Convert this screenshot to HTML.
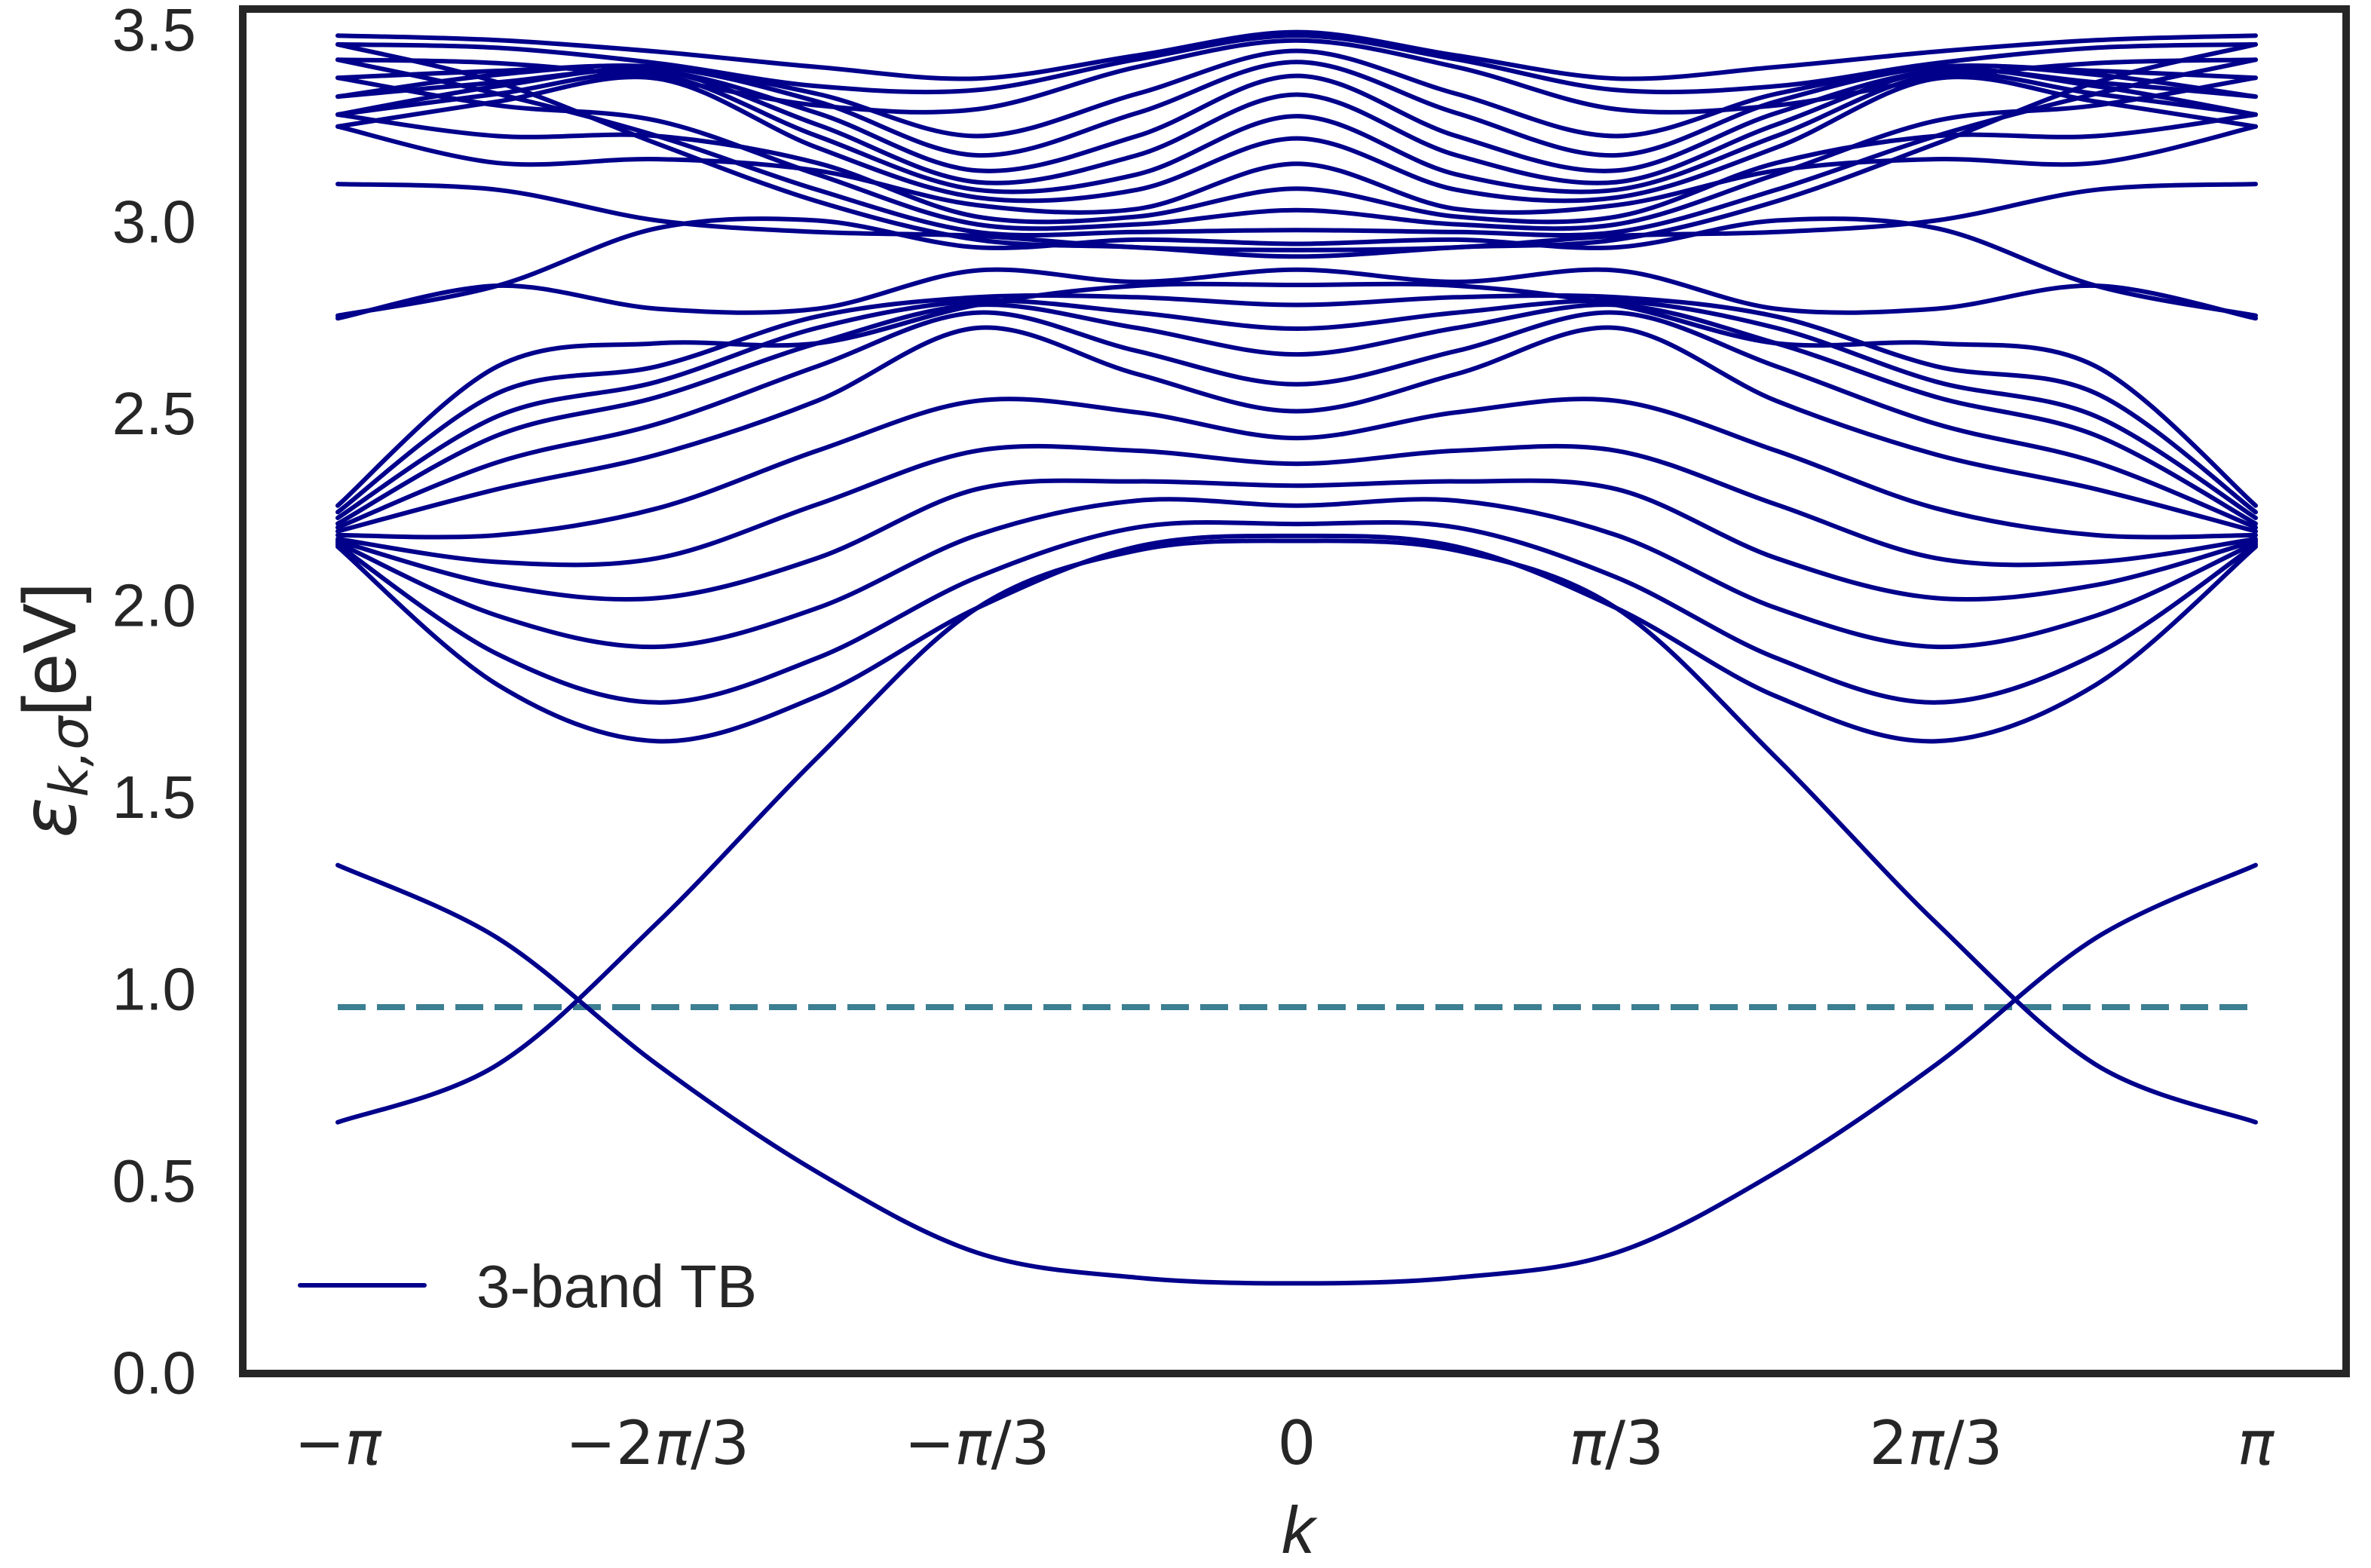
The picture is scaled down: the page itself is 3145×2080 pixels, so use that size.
<!DOCTYPE html>
<html><head><meta charset="utf-8"><style>
html,body{margin:0;padding:0;background:#fff;}
svg{display:block;}
text{font-family:"Liberation Sans","DejaVu Sans",sans-serif;fill:#262626;}
</style></head><body>
<svg id="chart" width="3145" height="2080" viewBox="0 0 3145 2080" xmlns="http://www.w3.org/2000/svg">
<rect width="3145" height="2080" fill="#fff"/>
<g id="bands"></g>
<g id="ticks"></g>
<rect x="322" y="12" width="2790" height="1810" fill="none" stroke="#262626" stroke-width="10"/>
<g>
<line x1="398" y1="1705" x2="563" y2="1705" stroke="#00008b" stroke-width="6" stroke-linecap="round"/>
<text x="632" y="1734" font-size="80">3-band TB</text>
</g>
<text x="1722" y="2060" font-size="88" font-style="italic" text-anchor="middle" font-family="DejaVu Sans">k</text>
<text transform="translate(100,942) rotate(-90)" font-size="100" text-anchor="middle"><tspan font-family="DejaVu Sans" font-style="italic">ε</tspan><tspan font-family="DejaVu Sans" font-style="italic" font-size="70" dy="16">k,σ</tspan><tspan dy="-16">[eV]</tspan></text>
</svg>
<script>
var kTicks=[-Math.PI,-2*Math.PI/3,-Math.PI/3,0,Math.PI/3,2*Math.PI/3,Math.PI];
var kTickLabels=[["−","π"],["−2","π","/3"],["−","π","/3"],["0"],["","π","/3"],["2","π","/3"],["","π"]];
var yTicks=[0,0.5,1.0,1.5,2.0,2.5,3.0,3.5];
var fermiLevel=0.95;
// band energies sampled at k = -π, -5π/6, -2π/3, -π/2, -π/3, -π/6, 0 (mirrored for k>0)
var bandA=[1.32,1.13,0.80,0.52,0.31,0.245,0.23];
var bandB=[0.65,0.80,1.17,1.60,1.99,2.14,2.165];
var bandD1=[2.150,1.79,1.643,1.76,1.99,2.15,2.178];
var bandD2=[2.155,1.87,1.744,1.86,2.07,2.20,2.209];
var bandD3=[2.160,1.97,1.889,1.99,2.18,2.27,2.257];
var bandD4=[2.165,2.05,2.016,2.12,2.30,2.32,2.309];
var bandD5=[2.17,2.11,2.12,2.26,2.40,2.40,2.366];
var bandD6=[2.18,2.18,2.25,2.40,2.53,2.50,2.433];
var bandP1=[2.19,2.30,2.39,2.53,2.72,2.60,2.503];
var bandP2=[2.20,2.37,2.47,2.62,2.76,2.66,2.573];
var bandP3=[2.21,2.44,2.54,2.68,2.78,2.72,2.651];
var bandP4=[2.225,2.49,2.58,2.72,2.79,2.76,2.718];
var bandP5=[2.24,2.55,2.62,2.75,2.80,2.80,2.78];
var bandP6=[2.257,2.62,2.68,2.68,2.78,2.83,2.832];
var bandQ1=[2.745,2.83,2.77,2.77,2.87,2.84,2.872];
var bandQ2=[2.752,2.83,2.98,3.00,2.93,2.95,2.939];
var bandC10=[3.095,3.08,3.0,2.97,2.96,2.93,2.923];
var bandU1=[3.482,3.47,3.44,3.40,3.37,3.43,3.491];
var bandU2=[3.459,3.45,3.41,3.35,3.34,3.42,3.482];
var bandU3=[3.419,3.41,3.37,3.30,3.29,3.40,3.469];
var bandU4=[3.372,3.39,3.40,3.33,3.22,3.33,3.442];
var bandU5=[3.323,3.38,3.40,3.31,3.17,3.28,3.413];
var bandU6=[3.323,3.36,3.39,3.28,3.13,3.22,3.377];
var bandU7=[3.276,3.35,3.39,3.25,3.10,3.17,3.328];
var bandU8=[3.276,3.33,3.38,3.22,3.08,3.12,3.272];
var bandU9=[3.245,3.31,3.37,3.19,3.06,3.08,3.214];
var bandU10=[3.245,3.15,3.16,3.13,3.04,3.03,3.148];
var bandU11=[3.276,3.22,3.22,3.15,3.01,3.01,3.083];
var bandU12=[3.372,3.30,3.26,3.12,2.99,2.99,3.027];
var bandU13=[3.419,3.33,3.22,3.08,2.97,2.97,2.975];
var bandU14=[3.459,3.36,3.20,3.05,2.95,2.93,2.906];
var bands=[bandA,bandB,bandD1,bandD2,bandD3,bandD4,bandD5,bandD6,bandP1,bandP2,bandP3,bandP4,bandP5,bandP6,bandQ1,bandQ2,bandC10,bandU1,bandU2,bandU3,bandU4,bandU5,bandU6,bandU7,bandU8,bandU9,bandU10,bandU11,bandU12,bandU13,bandU14];

var NS="http://www.w3.org/2000/svg";
function xScale(k){return 1720+(k/Math.PI)*1272;}
function yScale(v){return 38+(3.5-v)*509;}

var gB=document.getElementById('bands');
var fl=document.createElementNS(NS,'line');


fl.setAttribute('x1',xScale(-Math.PI));fl.setAttribute('x2',xScale(Math.PI));
fl.setAttribute('y1',yScale(fermiLevel));fl.setAttribute('y2',yScale(fermiLevel));
fl.setAttribute('stroke','#3d7f92');fl.setAttribute('stroke-width','8');fl.setAttribute('stroke-dasharray','37 15');
gB.appendChild(fl);

bands.forEach(function(b,bi){
  var vals=b.concat(b.slice(0,6).reverse());
  var pts=vals.map(function(v,i){return [xScale(-Math.PI+i*Math.PI/6),yScale(v)];});
  var d='M'+pts[0][0].toFixed(1)+','+pts[0][1].toFixed(1);
  for(var i=0;i<pts.length-1;i++){
    var p0=pts[Math.max(0,i-1)],p1=pts[i],p2=pts[i+1],p3=pts[Math.min(pts.length-1,i+2)];
    var c1x=p1[0]+(p2[0]-p0[0])/6,c1y=p1[1]+(p2[1]-p0[1])/6;
    var c2x=p2[0]-(p3[0]-p1[0])/6,c2y=p2[1]-(p3[1]-p1[1])/6;
    d+=' C'+c1x.toFixed(1)+','+c1y.toFixed(1)+' '+c2x.toFixed(1)+','+c2y.toFixed(1)+' '+p2[0].toFixed(1)+','+p2[1].toFixed(1);
  }
  var p=document.createElementNS(NS,'path');
  
  
  p.setAttribute('d',d);p.setAttribute('fill','none');p.setAttribute('stroke','#00008b');
  p.setAttribute('stroke-width','6');p.setAttribute('stroke-linecap','round');
  gB.appendChild(p);
});

var gT=document.getElementById('ticks');
yTicks.forEach(function(v){
  var t=document.createElementNS(NS,'text');
  
  
  t.setAttribute('x','260');t.setAttribute('y',(yScale(v)+29).toFixed(1));
  t.setAttribute('font-size','80');t.setAttribute('text-anchor','end');
  t.textContent=v.toFixed(1);
  gT.appendChild(t);
});
kTicks.forEach(function(k,i){
  var t=document.createElementNS(NS,'text');
  
  
  t.setAttribute('x',xScale(k).toFixed(1));t.setAttribute('y','1942');
  t.setAttribute('font-size','80');t.setAttribute('text-anchor','middle');
  var parts=kTickLabels[i];
  parts.forEach(function(s,j){
    if(!s)return;
    var ts=document.createElementNS(NS,'tspan');
    ts.setAttribute('font-family','DejaVu Sans');
    if(j===1)ts.setAttribute('font-style','italic');
    ts.textContent=s;t.appendChild(ts);
  });
  gT.appendChild(t);
});
</script>
</body></html>
